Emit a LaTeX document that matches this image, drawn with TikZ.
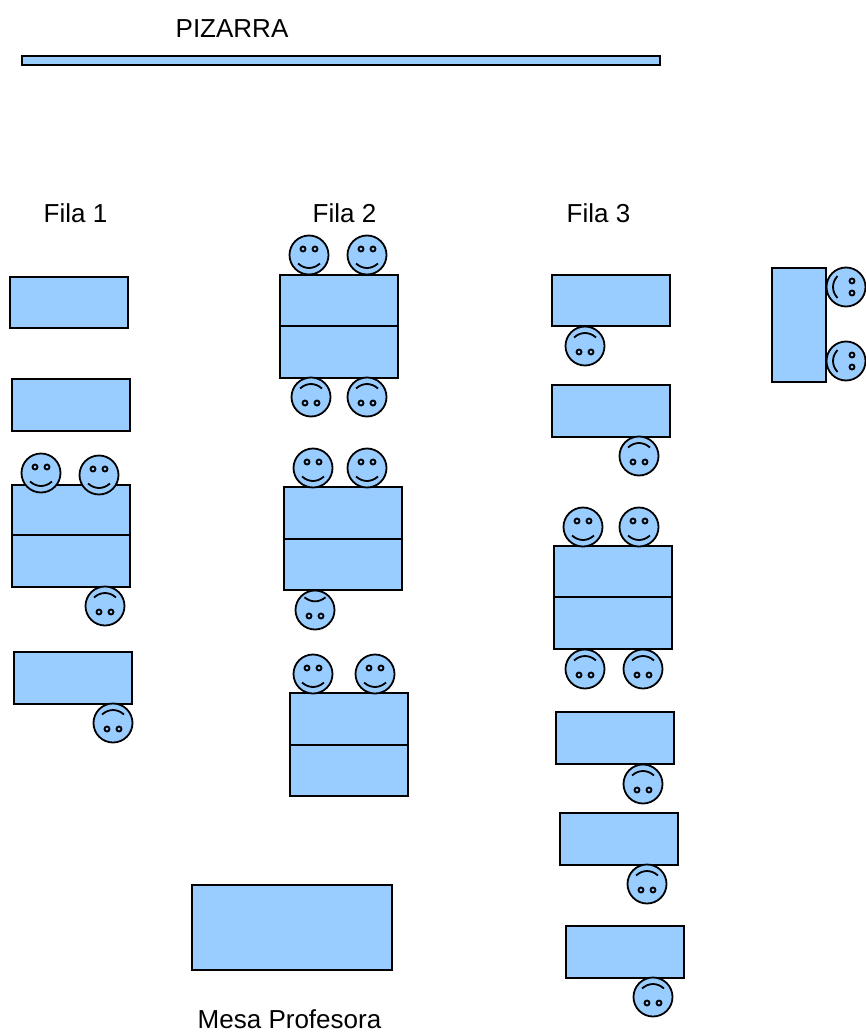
\documentclass[tikz,border=0pt]{standalone}
\usepackage{fontspec}
\setmainfont{Liberation Sans}
\usepackage{xcolor}
\definecolor{deskblue}{HTML}{99CCFF}

\newcommand{\drawface}[1]{
    \draw[fill=deskblue, line width=1.8pt] (0,0) circle (19.5pt);
    \draw[fill=deskblue, line width=1.8pt] (-6,#1) circle (2.5pt);
    \draw[fill=deskblue, line width=1.8pt] (6,#1) circle (2.5pt);
}

\tikzset{
    desk/.style={draw, rectangle, minimum width=118pt, minimum height=51.5pt, fill=deskblue, line width=1.8pt, inner sep=0pt, outer sep=0pt},
    label/.style={font=\fontsize{26}{30}\selectfont, inner sep=0pt},
    smiley/.pic={
        \drawface{-6}
        \draw[line width=1.8pt] (-11,8.5) .. controls (-4,14.5) and (4,14.5) .. (11,8.5);
    },
    oddsmiley/.pic={
        \drawface{6}
        \draw[line width=1.8pt] (-10.5,-12.7) .. controls (-4,-7.3) and (4,-7.3) .. (10.5,-12.7);
    }
}

\begin{document}
\begin{tikzpicture}[x=1pt, y=-1pt]
    \useasboundingbox (0,0) rectangle (866,1032);

    \node[desk, minimum width=638pt, minimum height=9pt] (pizarra) at (341,60.5) {};
    \node[label] (pizarralabel) at (232,29) {PIZARRA};
    \node[label] (fila1) at (75.5,213) {Fila 1};
    \node[label] (fila2) at (344.5,213) {Fila 2};
    \node[label] (fila3) at (598.5,213) {Fila 3};

    % fila 1
    \node[desk] (a1) at (69,302.5) {};
    \node[desk] (a2) at (71,405) {};
    \node[desk] (a3) at (71,510.5) {};
    \node[desk] (a4) at (71,561) {};
    \node[desk] (a5) at (73,678) {};

    % fila 2
    \node[desk] (b1) at (339,300.5) {};
    \node[desk] (b2) at (339,352) {};
    \node[desk] (b3) at (343,513) {};
    \node[desk] (b4) at (343,564.5) {};
    \node[desk] (b5) at (349,719) {};
    \node[desk] (b6) at (349,770.5) {};

    % fila 3
    \node[desk] (c1) at (611,300.5) {};
    \node[desk] (c2) at (611,411) {};
    \node[desk] (c3) at (613,571.5) {};
    \node[desk] (c4) at (613,623) {};
    \node[desk] (c5) at (615,738) {};
    \node[desk] (c6) at (619,839) {};
    \node[desk] (c7) at (625,952) {};

    \node[desk, minimum width=54.5pt, minimum height=114pt] (side) at (799,325) {};

    \node[desk, minimum width=200pt, minimum height=85.5pt] (mesa) at (292,927.5) {};
    \node[label] (mesalabel) at (289.5,1019) {Mesa Profesora};

    % alumnos fila 1
    \pic at (41,473) {smiley};
    \pic at (99,475) {smiley};
    \pic[rotate=180] at (105,606) {smiley};
    \pic[rotate=180] at (113,723) {smiley};

    % alumnos fila 2
    \pic at (309,255) {smiley};
    \pic at (367,255) {smiley};
    \pic[rotate=180] at (311,397) {smiley};
    \pic[rotate=180] at (367,397) {smiley};
    \pic at (313,468) {smiley};
    \pic at (367,468) {smiley};
    \pic at (315,610) {oddsmiley};
    \pic at (313,674) {smiley};
    \pic at (375,674) {smiley};

    % alumnos fila 3
    \pic[rotate=180] at (585,346) {smiley};
    \pic[rotate=180] at (639,456) {smiley};
    \pic at (583,527) {smiley};
    \pic at (639,527) {smiley};
    \pic[rotate=180] at (585,669) {smiley};
    \pic[rotate=180] at (643,669) {smiley};
    \pic[rotate=180] at (643,784) {smiley};
    \pic[rotate=180] at (647,884) {smiley};
    \pic[rotate=180] at (653,997) {smiley};

    \pic[rotate=-90] at (846,287) {smiley};
    \pic[rotate=-90] at (846,361) {smiley};
\end{tikzpicture}
\end{document}
